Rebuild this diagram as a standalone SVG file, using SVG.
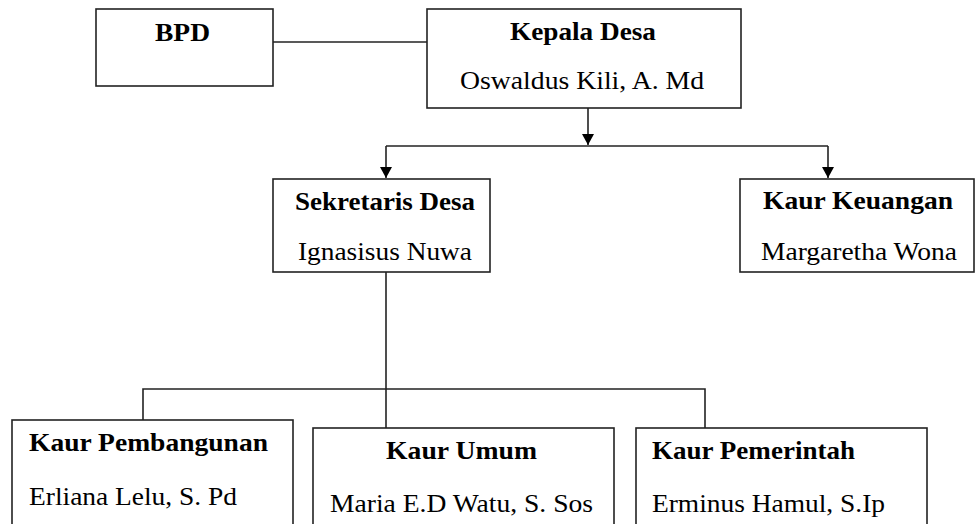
<svg xmlns="http://www.w3.org/2000/svg" width="975" height="524" viewBox="0 0 975 524">
<style>
.box{fill:#fff;stroke:#222;stroke-width:1.6}
.ln{fill:none;stroke:#222;stroke-width:1.6}
.t{font-family:"Liberation Serif","Times New Roman",serif;font-size:25px;fill:#000}
.b{font-weight:bold}
</style>
<defs>
<marker id="arr" markerUnits="userSpaceOnUse" markerWidth="12" markerHeight="12" refX="6" refY="11" orient="0" viewBox="0 0 12 12">
<path d="M0,0 L12,0 L6,11 Z" fill="#000"/>
</marker>
</defs>
<rect width="975" height="524" fill="#fff"/>
<g id="connectors">
<line class="ln" x1="273" y1="42" x2="427" y2="42"/>
<line class="ln" x1="588" y1="108" x2="588" y2="145" marker-end="url(#arr)"/>
<line class="ln" x1="386" y1="146" x2="828" y2="146"/>
<line class="ln" x1="386" y1="146" x2="386" y2="178" marker-end="url(#arr)"/>
<line class="ln" x1="828" y1="146" x2="828" y2="178" marker-end="url(#arr)"/>
<line class="ln" x1="386" y1="272" x2="386" y2="428"/>
<polyline class="ln" points="143,420 143,389 705,389 705,428"/>
</g>
<g id="bpd">
<rect class="box" x="96" y="9" width="177" height="77"/>
<text class="t b" x="155" y="40.5" textLength="55" lengthAdjust="spacingAndGlyphs">BPD</text>
</g>
<g id="kepala-desa">
<rect class="box" x="427" y="9" width="314" height="99"/>
<text class="t b" x="510" y="40" textLength="146" lengthAdjust="spacingAndGlyphs">Kepala Desa</text>
<text class="t" x="460" y="89" textLength="244" lengthAdjust="spacingAndGlyphs">Oswaldus Kili, A. Md</text>
</g>
<g id="sekretaris-desa">
<rect class="box" x="273" y="179" width="217" height="93"/>
<text class="t b" x="295" y="210" textLength="180" lengthAdjust="spacingAndGlyphs">Sekretaris Desa</text>
<text class="t" x="298" y="260" textLength="174" lengthAdjust="spacingAndGlyphs">Ignasisus Nuwa</text>
</g>
<g id="kaur-keuangan">
<rect class="box" x="740" y="179" width="234" height="93"/>
<text class="t b" x="763" y="209" textLength="190" lengthAdjust="spacingAndGlyphs">Kaur Keuangan</text>
<text class="t" x="761" y="260" textLength="196" lengthAdjust="spacingAndGlyphs">Margaretha Wona</text>
</g>
<g id="kaur-pembangunan">
<rect class="box" x="12" y="420" width="281" height="120"/>
<text class="t b" x="29" y="451" textLength="239" lengthAdjust="spacingAndGlyphs">Kaur Pembangunan</text>
<text class="t" x="29" y="505" textLength="208" lengthAdjust="spacingAndGlyphs">Erliana Lelu, S. Pd</text>
</g>
<g id="kaur-umum">
<rect class="box" x="313" y="428" width="301" height="120"/>
<text class="t b" x="386" y="459" textLength="151" lengthAdjust="spacingAndGlyphs">Kaur Umum</text>
<text class="t" x="330" y="512" textLength="263" lengthAdjust="spacingAndGlyphs">Maria E.D Watu, S. Sos</text>
</g>
<g id="kaur-pemerintah">
<rect class="box" x="636" y="428" width="291" height="120"/>
<text class="t b" x="652" y="459" textLength="203" lengthAdjust="spacingAndGlyphs">Kaur Pemerintah</text>
<text class="t" x="652" y="512" textLength="233" lengthAdjust="spacingAndGlyphs">Erminus Hamul, S.Ip</text>
</g>
</svg>
